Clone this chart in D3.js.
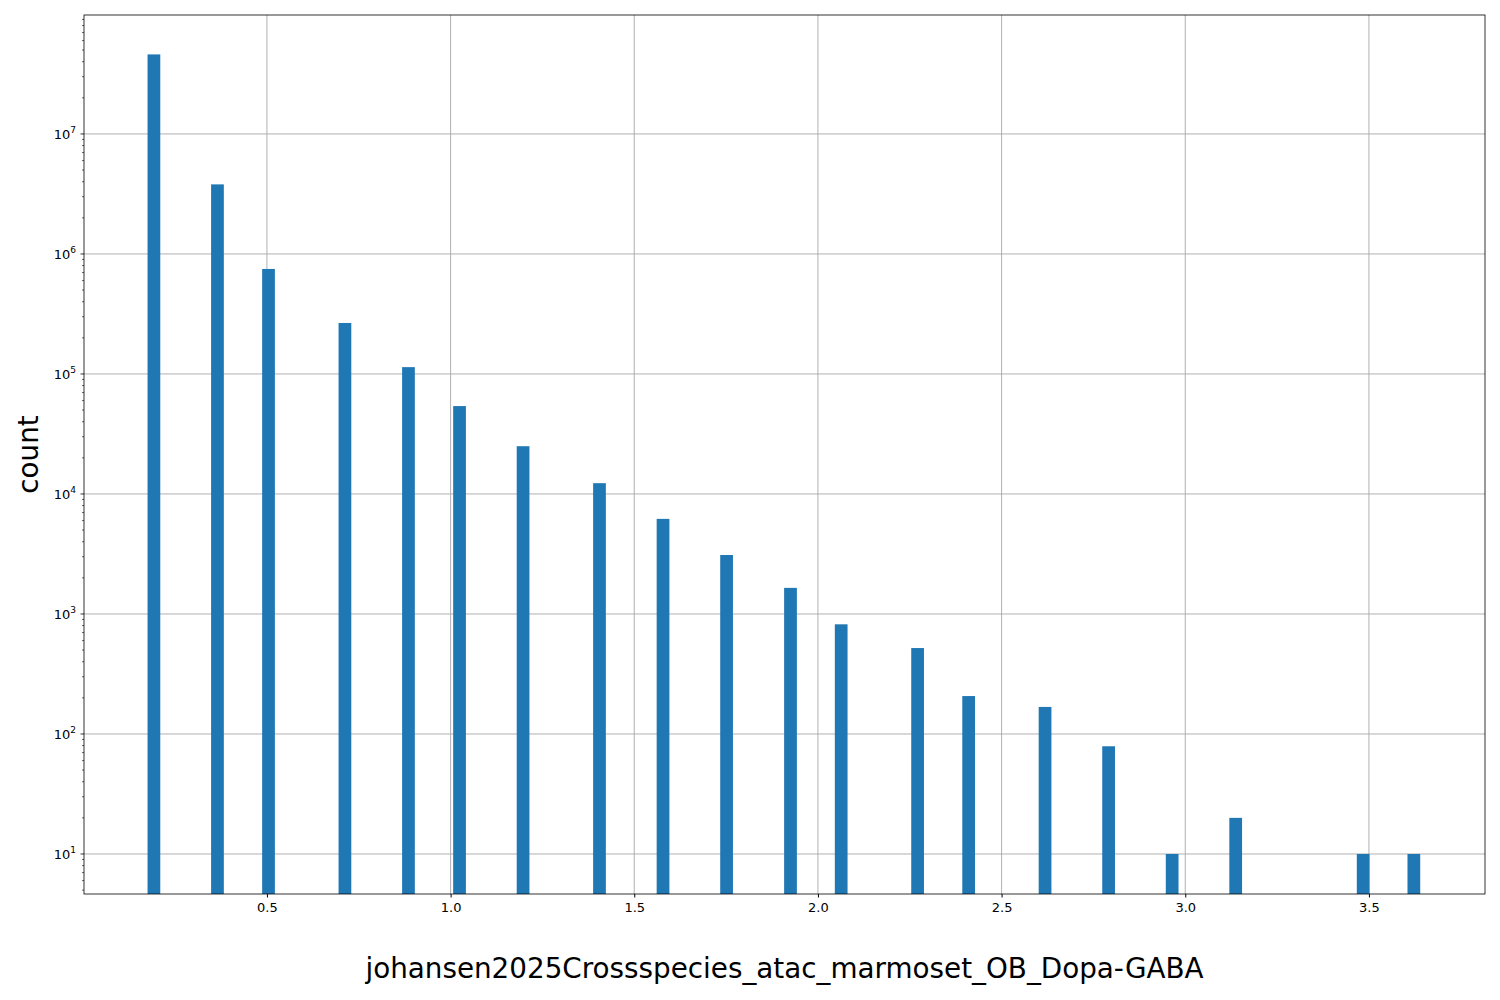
<!DOCTYPE html>
<html>
<head>
<meta charset="utf-8">
<script src="https://cdn.jsdelivr.net/npm/d3@7"></script>
<style>
body { margin: 0; background: #fff; }
text { font-family: "DejaVu Sans", sans-serif; }
</style>
</head>
<body>
<script>
// histogram bins (left edge) and counts
var binLeft = [0.175, 0.348, 0.487, 0.695, 0.868, 1.007, 1.180, 1.388, 1.561, 1.734,
               1.908, 2.046, 2.254, 2.393, 2.601, 2.774, 2.947, 3.120, 3.467, 3.605];
var counts = [4.6e7, 3.8e6, 7.5e5, 2.66e5, 1.14e5, 5.4e4, 2.5e4, 1.23e4, 6.2e3, 3.1e3,
              1.65e3, 820, 520, 207, 168, 79, 10, 20, 10, 10];
var binWidth = 0.03465;
var xTicks = [0.5, 1.0, 1.5, 2.0, 2.5, 3.0, 3.5];
var yTicks = [1, 2, 3, 4, 5, 6, 7];
var xLabel = "johansen2025Crossspecies_atac_marmoset_OB_Dopa-GABA";
var yLabel = "count";

var width = 1500, height = 1000;
var margin = {top: 15, right: 15, bottom: 106, left: 84};
var w = width - margin.left - margin.right;
var h = height - margin.top - margin.bottom;

var svg = d3.select("body").append("svg")
    .attr("width", width)
    .attr("height", height);

var g = svg.append("g")
    .attr("transform", `translate(${margin.left}, ${margin.top})`);

var x = d3.scaleLinear().domain([0.002, 3.816]).range([0, w]);
var y = d3.scaleLog().domain([4.64, 9.8e7]).range([h, 0]);

// grid
g.selectAll(".gx").data(xTicks).join("line")
    .attr("x1", d => x(d)).attr("x2", d => x(d))
    .attr("y1", 0).attr("y2", h)
    .attr("stroke", "#a8a8a8").attr("stroke-width", 0.9);
g.selectAll(".gy").data(yTicks).join("line")
    .attr("y1", d => y(Math.pow(10, d))).attr("y2", d => y(Math.pow(10, d)))
    .attr("x1", 0).attr("x2", w)
    .attr("stroke", "#a8a8a8").attr("stroke-width", 0.9);

// bars
g.selectAll("rect.bar").data(binLeft).join("rect")
    .attr("x", d => x(d))
    .attr("width", d => x(d + binWidth) - x(d))
    .attr("y", (d, i) => y(counts[i]))
    .attr("height", (d, i) => h - y(counts[i]))
    .attr("fill", "#1f77b4");

// x axis
var xa = g.append("g").attr("transform", `translate(0, ${h})`)
    .call(d3.axisBottom(x).tickValues(xTicks).tickFormat(d3.format(".1f")).tickSize(3.5).tickPadding(5));
xa.select(".domain").remove();
xa.selectAll("text").attr("font-size", 13).attr("fill", "#000").attr("font-family", "DejaVu Sans");

// y axis major ticks with superscript labels
var ya = g.append("g");
ya.selectAll("line.maj").data(yTicks).join("line")
    .attr("x1", -3.5).attr("x2", 0)
    .attr("y1", d => y(Math.pow(10, d))).attr("y2", d => y(Math.pow(10, d)))
    .attr("stroke", "#000").attr("stroke-width", 0.8);
var minors = [];
for (var e = 0; e <= 7; e++) for (var m = 2; m <= 9; m++) {
    var v = m * Math.pow(10, e);
    if (v >= y.domain()[0] && v <= y.domain()[1]) minors.push(v);
}
ya.selectAll("line.min").data(minors).join("line")
    .attr("x1", -2).attr("x2", 0)
    .attr("y1", d => y(d)).attr("y2", d => y(d))
    .attr("stroke", "#000").attr("stroke-width", 0.6);
var yl = ya.selectAll("text.yl").data(yTicks).join("text")
    .attr("x", -8).attr("y", d => y(Math.pow(10, d)) + 5)
    .attr("text-anchor", "end").attr("font-size", 13);
yl.append("tspan").text("10");
yl.append("tspan").attr("dy", -6).attr("font-size", 9).text(d => d);

// frame
g.append("rect").attr("width", w).attr("height", h)
    .attr("fill", "none").attr("stroke", "#000").attr("stroke-width", 0.8);

// labels
svg.append("text")
    .attr("x", margin.left + w / 2).attr("y", 978)
    .attr("text-anchor", "middle").attr("font-size", 27.8)
    .text(xLabel);
svg.append("text")
    .attr("transform", `translate(38, ${margin.top + h / 2}) rotate(-90)`)
    .attr("text-anchor", "middle").attr("font-size", 27.8)
    .text(yLabel);
</script>
</body>
</html>
